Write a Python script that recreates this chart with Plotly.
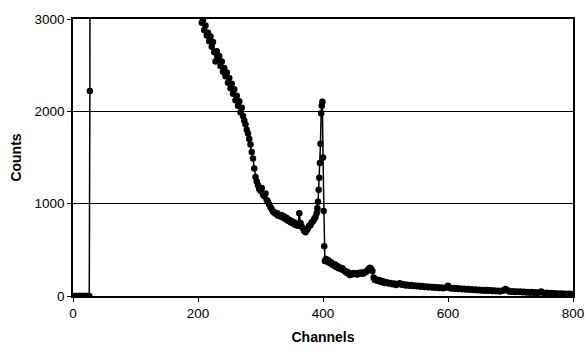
import plotly.graph_objects as go

# Channel numbers and counts
channels = [0, 2, 4, 6, 8, 10, 12, 14, 16, 18, 20, 22, 24, 26, 27, 28, 120,
            204, 206, 208, 210, 212, 214, 216, 218, 220, 222, 224, 226, 228, 230,
            232, 234, 236, 238, 240, 242, 244, 246, 248, 250, 252, 254, 256, 258,
            260, 262, 264, 266, 268, 270, 272, 274, 276, 278, 280, 282, 284, 286,
            288, 290, 292, 294, 296, 298, 300, 302, 304, 306, 308, 310, 312, 314,
            316, 318, 320, 322, 324, 326, 328, 330, 332, 334, 336, 338, 340, 342,
            344, 346, 348, 350, 352, 354, 356, 358, 360, 362, 364, 366, 368, 370,
            372, 374, 376, 378, 380, 382, 384, 386, 388, 390, 391, 392, 393, 394,
            395, 396, 397, 398, 399, 400, 401, 402, 403, 405, 407, 409, 411, 413,
            415, 417, 419, 421, 423, 425, 427, 429, 431, 433, 435, 437, 439, 441,
            443, 445, 447, 449, 451, 453, 455, 457, 459, 461, 463, 465, 467, 469,
            471, 473, 475, 477, 479, 481, 483, 485, 487, 489, 491, 493, 495, 497,
            499, 502, 505, 508, 511, 514, 517, 520, 523, 526, 529, 532, 535, 538,
            541, 544, 547, 550, 553, 556, 559, 562, 565, 568, 571, 574, 577, 580,
            583, 586, 589, 592, 595, 598, 600, 602, 605, 608, 611, 614, 617, 620,
            623, 626, 629, 632, 635, 638, 641, 644, 647, 650, 653, 656, 659, 662,
            665, 668, 671, 674, 677, 680, 683, 686, 689, 692, 695, 698, 701, 704,
            707, 710, 713, 716, 719, 722, 725, 728, 731, 734, 737, 740, 743, 746,
            749, 752, 755, 758, 761, 764, 767, 770, 773, 776, 779, 782, 785, 788,
            791, 794, 797, 800]
counts = [0, 0, 0, 0, 0, 0, 0, 0, 0, 0, 0, 0, 0, 0, 2220, 9000, 9000,
          3040, 2960, 2990, 2880, 2930, 2820, 2850, 2760, 2810, 2700, 2750, 2640, 2540, 2650,
          2560, 2600, 2490, 2540, 2430, 2470, 2380, 2420, 2310, 2360, 2250, 2300, 2190, 2240,
          2120, 2170, 2060, 2110, 1990, 2040, 1950, 1900, 1860, 1800, 1760, 1700, 1640, 1560,
          1490, 1380, 1290, 1240, 1200, 1160, 1140, 1170, 1100, 1080, 1110, 1040, 1020, 990,
          960, 940, 915, 905, 890, 900, 870, 880, 860, 875, 850, 860, 830, 845,
          815, 825, 800, 810, 785, 800, 770, 780, 760, 895, 790, 750, 735, 705,
          690, 715, 730, 760, 770, 800, 810, 835, 855, 900, 950, 1020, 1150, 1280,
          1440, 1650, 1980, 2060, 2105, 1500, 920, 540, 380, 400, 370, 385, 354, 365,
          340, 330, 345, 315, 325, 300, 310, 290, 300, 280, 270, 255, 262, 240,
          228, 245, 235, 250, 238, 246, 232, 248, 252, 240, 255, 245, 258, 262,
          275, 290, 305, 295, 270, 200, 173, 180, 165, 172, 158, 165, 150, 158,
          142, 150, 135, 142, 128, 136, 120, 130, 137, 122, 128, 115, 122, 112,
          118, 108, 115, 105, 112, 100, 108, 98, 104, 95, 100, 92, 97, 90,
          95, 86, 92, 84, 90, 95, 110, 88, 82, 86, 78, 84, 76, 80,
          72, 78, 70, 75, 68, 72, 65, 70, 62, 68, 60, 66, 58, 64,
          56, 62, 54, 60, 52, 58, 50, 56, 60, 75, 62, 50, 46, 52,
          44, 50, 42, 48, 40, 46, 38, 44, 36, 42, 34, 40, 32, 38,
          48, 36, 30, 34, 28, 32, 26, 30, 24, 28, 22, 26, 21, 25,
          20, 24, 19, 22]

x_ticks = [0, 200, 400, 600, 800]
y_ticks = [0, 1000, 2000, 3000]

font_family = "Liberation Sans, Arial, sans-serif"

fig = go.Figure()
fig.add_trace(go.Scatter(
    x=channels, y=counts, mode="lines+markers",
    line=dict(color="black", width=1.5),
    marker=dict(color="black", size=6.5),
    showlegend=False,
))

fig.update_layout(
    width=585, height=354,
    margin=dict(l=73, r=12, t=19, b=58),
    paper_bgcolor="white", plot_bgcolor="white",
    font=dict(family=font_family, size=13.5, color="black"),
)
fig.update_xaxes(
    range=[0, 800], tickvals=x_ticks, ticktext=[str(v) for v in x_ticks],
    showgrid=False, zeroline=False, automargin=False,
    showline=True, linecolor="black", linewidth=1.5, mirror=True,
    ticks="outside", ticklen=4, tickcolor="black",
    title=dict(text="<b>Channels</b>", font=dict(size=14), standoff=12),
    tickfont=dict(size=13.5),
)
fig.update_yaxes(
    range=[0, 3000], tickvals=y_ticks, ticktext=[str(v) for v in y_ticks],
    showgrid=True, gridcolor="black", gridwidth=1, zeroline=False, automargin=False,
    showline=True, linecolor="black", linewidth=1.5, mirror=True,
    ticks="outside", ticklen=4, tickcolor="black",
    title=dict(text="<b>Counts</b>", font=dict(size=14), standoff=10),
    tickfont=dict(size=13.5),
)

fig.write_html(
    "out.html",
    config={"displayModeBar": False},
    post_script="document.body.style.margin='0';document.body.style.overflow='hidden';",
)
